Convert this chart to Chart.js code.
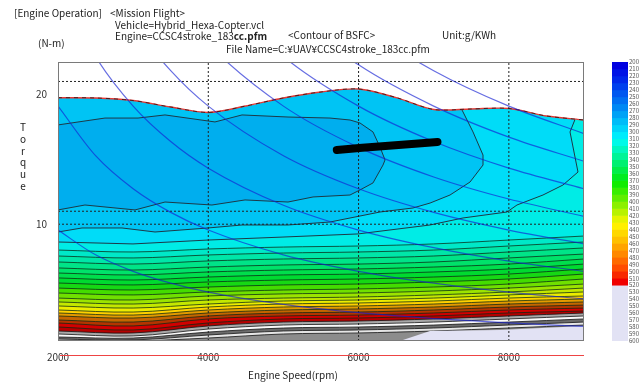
<!DOCTYPE html>
<html>
<head>
<meta charset="utf-8">
<script src="https://cdn.jsdelivr.net/npm/chart.js@4.4.1/dist/chart.umd.min.js"></script>
<style>
  body { margin: 0; width: 640px; height: 386px; position: relative; overflow: hidden; background: #fff;
         font-family: "Noto Sans CJK JP", "DejaVu Sans", sans-serif; }
  canvas { position: absolute; top: 0; }
  .t { position: absolute; font-size: 10px; line-height: 12px; color: #222; white-space: nowrap; }
</style>
</head>
<body>
<canvas id="main" width="640" height="386" style="left:0"></canvas>
<canvas id="bar" width="40" height="386" style="left:600px"></canvas>

<div class="t" style="left:14px;top:7px">[Engine Operation]</div>
<div class="t" style="left:110px;top:7px">&lt;Mission Flight&gt;</div>
<div class="t" style="left:115px;top:19px">Vehicle=Hybrid_Hexa-Copter.vcl</div>
<div class="t" style="left:115px;top:30px">Engine=CCSC4stroke_183<b>cc.pfm</b></div>
<div class="t" style="left:288px;top:29px">&lt;Contour of BSFC&gt;</div>
<div class="t" style="left:442px;top:29px">Unit:g/KWh</div>
<div class="t" style="left:38px;top:37px">(N-m)</div>
<div class="t" style="left:226px;top:43px">File Name=C:¥UAV¥CCSC4stroke_183cc.pfm</div>
<div class="t" style="left:248px;top:369px">Engine Speed(rpm)</div>
<div class="t" style="left:18px;top:121px;width:10px;text-align:center;line-height:11.8px">T<br>o<br>r<br>q<br>u<br>e</div>

<script>
// ---- axis ticks ----
const xTicks = [2000, 4000, 6000, 8000];
const yTicks = [10, 20];

// ---- max torque line (upper edge of the map) ----
const maxTqRpm = [2000, 2500, 3000, 3500, 4000, 4500, 5000, 5500, 6000, 6500, 7000, 7500, 8000, 8500, 9000];
const maxTq    = [19.75, 19.73, 19.53, 19.03, 18.61, 19.11, 19.73, 20.19, 20.42, 19.76, 18.84, 18.88, 18.92, 18.34, 18.03];

// ---- iso-BSFC outlines around the best region ----
const dRpm = [2000, 2625, 3065, 3424, 4089, 4449, 5061, 5620, 5886, 6019, 6192, 6285, 6352, 6325, 6192, 6019, 5886, 5394, 5061, 4489, 4049, 3424, 3025, 2359, 2000];
const dTq  = [17.65, 18.18, 18.18, 18.42, 17.88, 18.42, 18.26, 18.18, 18.03, 17.80, 17.11, 15.95, 14.95, 14.56, 13.18, 12.64, 12.25, 12.10, 11.71, 11.87, 11.48, 11.71, 11.10, 11.48, 11.10];

const c2Rpm = [2000, 2319, 2852, 3291, 3996, 4449, 5061, 5620, 6285, 6724, 6951, 7217, 7483, 7656, 7656, 7523, 7377, 7350, 9000, 9000, 2000];
const c2Tq  = [9.40, 9.71, 9.71, 9.40, 9.71, 9.94, 9.94, 10.17, 10.94, 11.25, 11.63, 12.25, 13.25, 14.56, 15.33, 17.11, 18.80, 19.57, 19.57, 1, 1];

const c3Rpm = [2000, 2998, 3996, 4994, 5992, 6951, 7390, 7975, 8108, 8454, 8720, 8920, 8814, 8920, 9000, 9000, 2000];
const c3Tq  = [8.63, 8.48, 8.78, 9.01, 9.25, 9.94, 10.48, 10.94, 11.48, 12.25, 13.02, 14.02, 17.11, 18.65, 18.65, 1, 1];

// ---- lower iso-BSFC lines (torque at each speed) ----
const bandRpm = [2000, 3000, 4000, 5000, 6000, 7000, 8000, 9000];
const band1  = [8.01, 7.86, 8.09, 8.24, 8.32, 8.48, 8.78, 9.09];
const band2  = [7.55, 7.40, 7.63, 7.78, 7.86, 8.01, 8.32, 8.63];
const band3  = [7.09, 6.93, 7.17, 7.32, 7.40, 7.55, 7.86, 8.17];
const band4  = [6.63, 6.47, 6.70, 6.86, 6.93, 7.09, 7.40, 7.70];
const band5  = [6.24, 6.09, 6.32, 6.47, 6.55, 6.70, 6.93, 7.32];
const band6  = [5.86, 5.70, 5.93, 6.09, 6.16, 6.32, 6.55, 6.93];
const band7  = [5.47, 5.32, 5.55, 5.70, 5.78, 5.93, 6.16, 6.55];
const band8  = [5.08, 4.93, 5.16, 5.32, 5.39, 5.55, 5.78, 6.16];
const band9  = [4.70, 4.55, 4.78, 4.93, 5.01, 5.16, 5.39, 5.78];
const band10 = [4.31, 4.16, 4.47, 4.63, 4.70, 4.85, 5.08, 5.39];
const band11 = [4.01, 3.85, 4.16, 4.31, 4.39, 4.55, 4.78, 5.08];
const band12 = [3.70, 3.54, 3.85, 4.08, 4.16, 4.31, 4.55, 4.78];
const band13 = [3.39, 3.23, 3.62, 3.85, 3.93, 4.08, 4.31, 4.47];
const band14 = [3.16, 3.00, 3.39, 3.62, 3.70, 3.85, 4.08, 4.24];
const band15 = [2.93, 2.77, 3.16, 3.39, 3.47, 3.62, 3.85, 4.01];
const band16 = [2.62, 2.46, 2.93, 3.16, 3.23, 3.39, 3.62, 3.77];
const band17 = [2.39, 2.16, 2.70, 2.93, 3.00, 3.16, 3.39, 3.54];
const band18 = [2.08, 1.85, 2.39, 2.70, 2.77, 2.93, 3.16, 3.31];
const band19 = [1.77, 1.62, 2.16, 2.46, 2.54, 2.70, 2.93, 3.16];
const band20 = [1.54, 1.39, 1.92, 2.23, 2.31, 2.46, 2.70, 2.93];
const band21 = [1.31, 1.23, 1.69, 2.00, 2.08, 2.23, 2.46, 2.70];
const band22 = [1.15, 1.08, 1.46, 1.77, 1.85, 2.00, 2.23, 2.46];
const band23 = [1.00, 1.00, 1.23, 1.54, 1.62, 1.77, 2.00, 2.23];
const bandLines = [band1, band2, band3, band4, band5, band6, band7, band8, band9, band10, band11, band12,
                   band13, band14, band15, band16, band17, band18, band19, band20, band21, band22, band23];

// out-of-range corner (bottom right)
const lavRpm = [6550, 6950, 7880, 9000, 9000];
const lavTq  = [1, 1.77, 1.85, 2.16, 1];

// ---- constant power lines 2..16 kW ----
const powerRpm = [2000, 2500, 3000, 3500, 4000, 5000, 6000, 7000, 8000, 9000];
const pw2  = [9.55, 7.64, 6.37, 5.46, 4.77, 3.82, 3.18, 2.73, 2.39, 2.12];
const pw4  = [19.10, 15.28, 12.73, 10.91, 9.55, 7.64, 6.37, 5.46, 4.77, 4.24];
const pw6  = [28.65, 22.92, 19.10, 16.37, 14.32, 11.46, 9.55, 8.19, 7.16, 6.37];
const pw8  = [38.20, 30.56, 25.46, 21.83, 19.10, 15.28, 12.73, 10.91, 9.55, 8.49];
const pw10 = [47.75, 38.20, 31.83, 27.28, 23.87, 19.10, 15.92, 13.64, 11.94, 10.61];
const pw12 = [57.30, 45.84, 38.20, 32.74, 28.65, 22.92, 19.10, 16.37, 14.32, 12.73];
const pw14 = [66.85, 53.48, 44.56, 38.20, 33.42, 26.74, 22.28, 19.10, 16.71, 14.85];
const pw16 = [76.39, 61.12, 50.93, 43.65, 38.20, 30.56, 25.46, 21.83, 19.10, 16.98];

// ---- mission flight operating points ----
const missionRpm = [5710, 6050, 6400, 6750, 7050];
const missionTq  = [15.72, 15.90, 16.05, 16.20, 16.34];

// ---- dotted reference lines ----
const refRpm = [4000, 6000, 8000];
const refTq  = [21, 11, 10];

// ---- colour bar ----
const barLevels = [200, 210, 220, 230, 240, 250, 260, 270, 280, 290, 300, 310, 320, 330, 340, 350, 360, 370, 380, 390,
                   400, 410, 420, 430, 440, 450, 460, 470, 480, 490, 500, 510, 520, 530, 540, 550, 560, 570, 580, 590];
const barTicks = [200, 210, 220, 230, 240, 250, 260, 270, 280, 290, 300, 310, 320, 330, 340, 350, 360, 370, 380, 390,
                  400, 410, 420, 430, 440, 450, 460, 470, 480, 490, 500, 510, 520, 530, 540, 550, 560, 570, 580, 590, 600];

// styles
const bandColors = ['#00e8c8', '#00e6a8', '#00e488', '#00e26a', '#00de4c', '#00da30', '#16d814', '#44dc00', '#70e000',
                    '#9ce400', '#c4e800', '#ecec00', '#ffd000', '#e49a00', '#c46600', '#b43400', '#d20000', '#b60000',
                    '#a8a8a8', '#fafafa', '#6c6c6c', '#e6e6e6', '#8c8c8c'];
const barColors = ['#0000e0', '#0014e6', '#0028ea', '#0040ee', '#0058f0', '#0070f2', '#0088f4', '#00a2f6', '#00bcf8', '#00d4fa',
                   '#00ecfc', '#00fae8', '#00f8c0', '#00f498', '#00f070', '#00ee48', '#00ec20', '#10ec00', '#38ee00', '#60ee00',
                   '#8cf000', '#b8f200', '#e4f400', '#fff000', '#ffd800', '#ffc000', '#ffa400', '#ff8800', '#ff6a00', '#ff4c00',
                   '#f82800', '#f00000', '#e2e2f4', '#e2e2f4', '#e2e2f4', '#e2e2f4', '#e2e2f4', '#e2e2f4', '#e2e2f4', '#e2e2f4'];

Chart.defaults.font.family = '"Noto Sans CJK JP", "DejaVu Sans", sans-serif';
Chart.defaults.color = '#333';

function pts(xs, ys) {
  return xs.map((x, i) => ({ x: x, y: ys[i] }));
}

const datasets = [];
function add(cfg) {
  datasets.push(Object.assign({ pointRadius: 0, borderWidth: 0, fill: false, tension: 0 }, cfg));
}

// back to front
add({ data: pts(maxTqRpm, maxTq), fill: 'start', backgroundColor: '#00c4f4', tension: 0.3 });
add({ data: pts(dRpm, dTq), fill: 'shape', backgroundColor: '#00aeee', borderColor: '#1c3a48', borderWidth: 1 });
add({ data: pts(c2Rpm, c2Tq), fill: 'shape', backgroundColor: '#00dcf8', borderColor: '#1c3a48', borderWidth: 1 });
add({ data: pts(c3Rpm, c3Tq), fill: 'shape', backgroundColor: '#00ece6', borderColor: '#1c3a48', borderWidth: 1 });
bandLines.forEach((b, i) => {
  add({ data: pts(bandRpm, b), fill: 'start', backgroundColor: bandColors[i],
        borderColor: i < 18 ? 'rgba(10,40,20,0.75)' : 'rgba(20,20,20,0.8)', borderWidth: 1, tension: 0.35 });
});
add({ data: pts(lavRpm, lavTq), fill: 'shape', backgroundColor: '#e2e2f4' });
add({ data: pts(maxTqRpm, maxTq), fill: 'end', backgroundColor: '#ffffff',
      borderColor: '#e53935', borderWidth: 1.4, tension: 0.3 });
// dark dashes along the max torque edge
add({ data: pts(maxTqRpm, maxTq), borderColor: 'rgba(40,20,20,0.8)', borderWidth: 1, borderDash: [4, 4], tension: 0.3 });
refRpm.forEach(r => {
  add({ data: [{ x: r, y: 1 }, { x: r, y: 22.5 }], borderColor: '#222', borderWidth: 1, borderDash: [2, 2] });
});
refTq.forEach(t => {
  add({ data: [{ x: 2000, y: t }, { x: 9000, y: t }], borderColor: '#222', borderWidth: 1, borderDash: [2, 2] });
});
[pw2, pw4, pw6, pw8, pw10, pw12, pw14, pw16].forEach(p => {
  add({ data: pts(powerRpm, p), borderColor: 'rgba(20,30,210,0.65)', borderWidth: 1.2, cubicInterpolationMode: 'monotone' });
});
add({ data: pts(missionRpm, missionTq), borderColor: '#000', borderWidth: 8, borderCapStyle: 'round', borderJoinStyle: 'round' });

datasets.forEach((d, i) => { d.order = datasets.length - i; });

const framePlugin = {
  id: 'frame',
  afterDatasetsDraw(chart) {
    const { ctx, chartArea: a } = chart;
    ctx.save();
    ctx.strokeStyle = '#7a7a7a';
    ctx.lineWidth = 1;
    ctx.strokeRect(a.left + 0.5, a.top + 0.5, a.right - a.left - 1, a.bottom - a.top - 1);
    ctx.strokeStyle = '#ee4444';
    ctx.beginPath();
    ctx.moveTo(a.left + 2, 355.5);
    ctx.lineTo(a.right, 355.5);
    ctx.stroke();
    ctx.restore();
  }
};

new Chart(document.getElementById('main'), {
  type: 'line',
  data: { datasets: datasets },
  options: {
    responsive: false,
    animation: false,
    events: [],
    layout: { padding: { left: 0, right: 56, top: 62, bottom: 0 } },
    plugins: { legend: { display: false }, tooltip: { enabled: false } },
    scales: {
      x: {
        type: 'linear', min: 2000, max: 9000,
        afterBuildTicks: s => { s.ticks = xTicks.map(v => ({ value: v })); },
        afterFit: s => { s.height = 45; },
        grid: { display: false, drawTicks: false },
        border: { display: false },
        ticks: { padding: 10, maxRotation: 0, font: { size: 10 }, color: '#333', callback: v => String(v) }
      },
      y: {
        type: 'linear', min: 1, max: 22.5,
        afterBuildTicks: s => { s.ticks = yTicks.map(v => ({ value: v })); },
        afterFit: s => { s.width = 58; },
        grid: { display: false, drawTicks: false },
        border: { display: false },
        ticks: { padding: 11, font: { size: 10 }, color: '#333', callback: v => String(v) }
      }
    }
  },
  plugins: [framePlugin]
});

// colour bar
new Chart(document.getElementById('bar'), {
  type: 'bar',
  data: {
    labels: [''],
    datasets: barLevels.map((v, i) => ({
      data: [[v, v + 10]], backgroundColor: barColors[i], borderWidth: 0,
      grouped: false, barPercentage: 1, categoryPercentage: 1
    }))
  },
  options: {
    responsive: false,
    animation: false,
    events: [],
    layout: { padding: { left: 12, right: 0, top: 62, bottom: 45 } },
    plugins: { legend: { display: false }, tooltip: { enabled: false } },
    scales: {
      x: { display: false },
      y: {
        position: 'right', reverse: true, min: 200, max: 600,
        afterBuildTicks: s => { s.ticks = barTicks.map(v => ({ value: v })); },
        afterFit: s => { s.width = 12; },
        grid: { display: false, drawTicks: false },
        border: { display: false },
        ticks: { padding: 1, autoSkip: false, font: { size: 6 }, color: '#555' }
      }
    }
  }
});
</script>
</body>
</html>
